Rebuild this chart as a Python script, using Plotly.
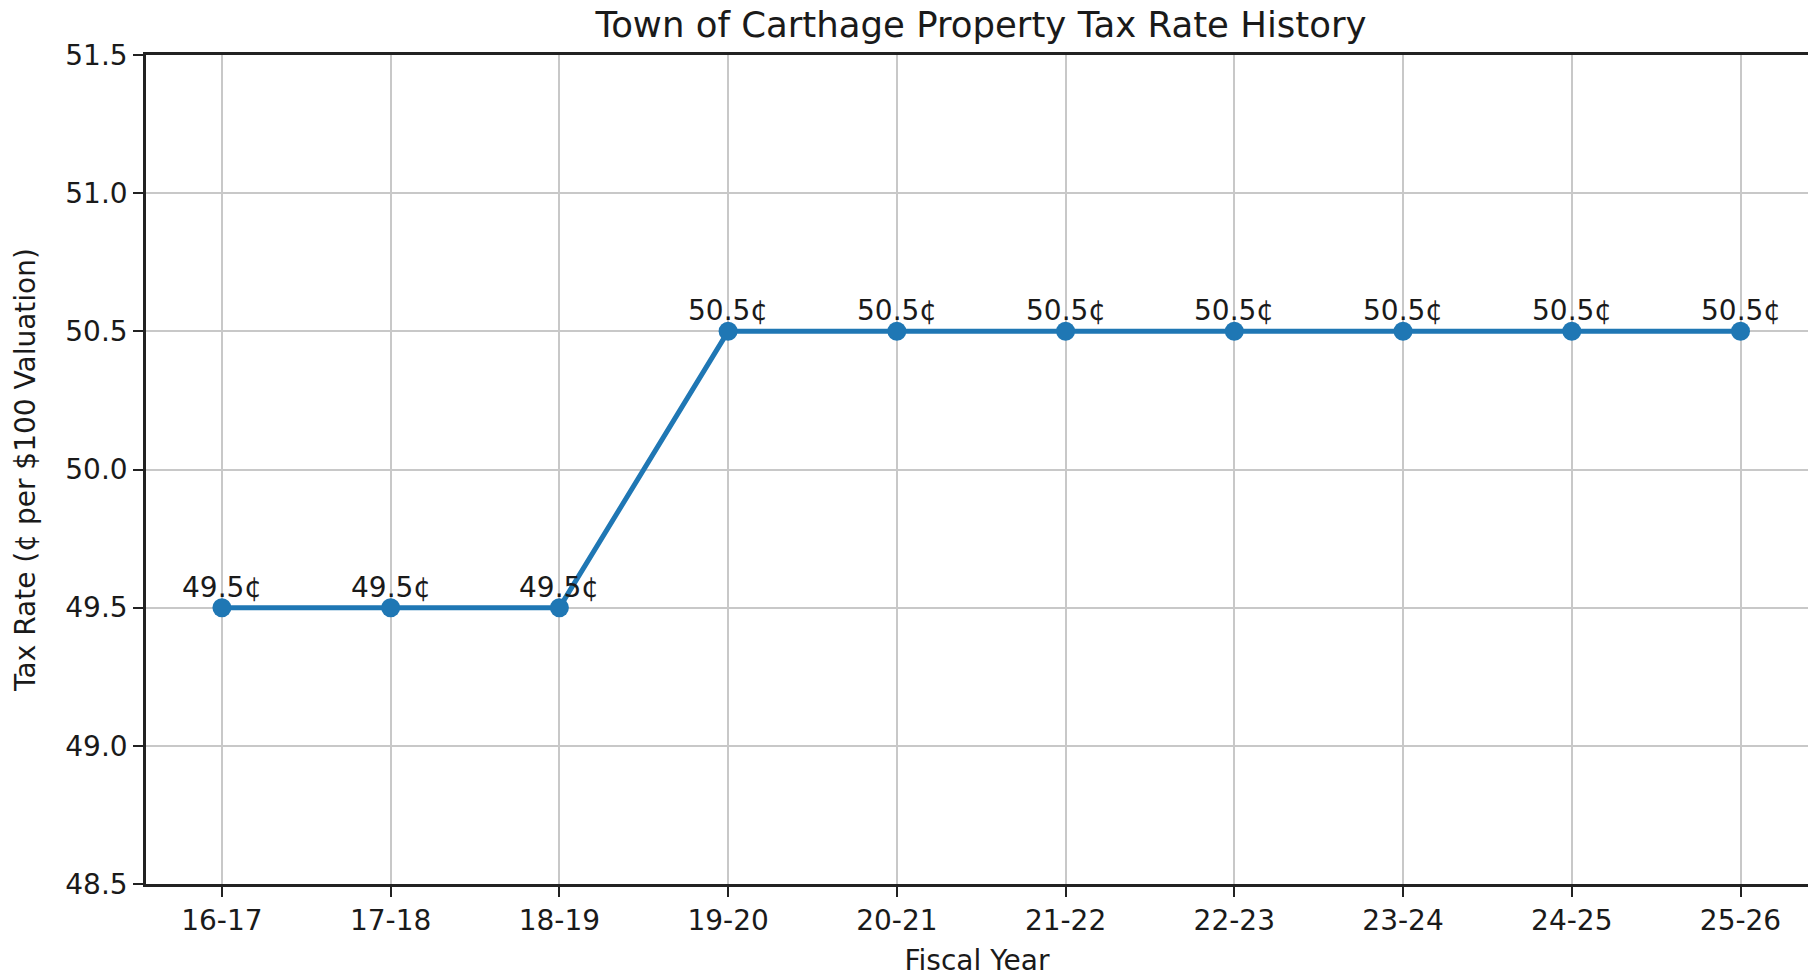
import plotly.graph_objects as go

fiscal_years = ["16-17", "17-18", "18-19", "19-20", "20-21", "21-22", "22-23", "23-24", "24-25", "25-26"]
tax_rates = [49.5, 49.5, 49.5, 50.5, 50.5, 50.5, 50.5, 50.5, 50.5, 50.5]
y_ticks = [48.5, 49.0, 49.5, 50.0, 50.5, 51.0, 51.5]

FONT = "DejaVu Sans"
TXT = "#1a1a1a"
BLUE = "#1f77b4"

fig = go.Figure()
fig.add_trace(go.Scatter(
    x=fiscal_years, y=tax_rates,
    mode="lines+markers",
    line=dict(color=BLUE, width=5),
    marker=dict(color=BLUE, size=19),
    cliponaxis=False,
    showlegend=False,
))

for fy, v in zip(fiscal_years, tax_rates):
    fig.add_annotation(
        x=fy, y=v, text=f"{v:.1f}¢", showarrow=False,
        xanchor="center", yanchor="bottom", yshift=2,
        font=dict(family=FONT, size=28, color=TXT),
    )

fig.update_layout(
    width=1808, height=977,
    margin=dict(l=146, r=0, t=55, b=93),
    paper_bgcolor="white", plot_bgcolor="white",
    font=dict(family=FONT, size=28, color=TXT),
    title=dict(text="Town of Carthage Property Tax Rate History",
               x=981/1808, xref="container", xanchor="center",
               y=1-25/977, yref="container", yanchor="middle",
               font=dict(family=FONT, size=35.5, color=TXT)),
)
fig.update_xaxes(
    type="category", range=[-0.45, 9.40],
    showline=True, linecolor="#222", linewidth=2.5, mirror=True,
    showgrid=True, gridcolor="#c8c8c8", gridwidth=2,
    ticks="outside", ticklen=10, tickwidth=2, tickcolor="#222",
    tickfont=dict(family=FONT, size=28, color=TXT),
    title=dict(text="Fiscal Year", font=dict(family=FONT, size=28, color=TXT), standoff=16),
    zeroline=False,
)
fig.update_yaxes(
    range=[48.5, 51.5], tickvals=y_ticks, ticktext=[f"{v:.1f}" for v in y_ticks],
    showline=True, linecolor="#222", linewidth=2.5, mirror=False,
    showgrid=True, gridcolor="#c8c8c8", gridwidth=2,
    ticks="outside", ticklen=10, tickwidth=2, tickcolor="#222",
    tickfont=dict(family=FONT, size=28, color=TXT),
    title=dict(text="Tax Rate (¢ per $100 Valuation)", font=dict(family=FONT, size=28, color=TXT), standoff=22),
    zeroline=False,
)

fig.write_html("out.html", config={"displayModeBar": False},
               post_script="document.body.style.margin='0';")
